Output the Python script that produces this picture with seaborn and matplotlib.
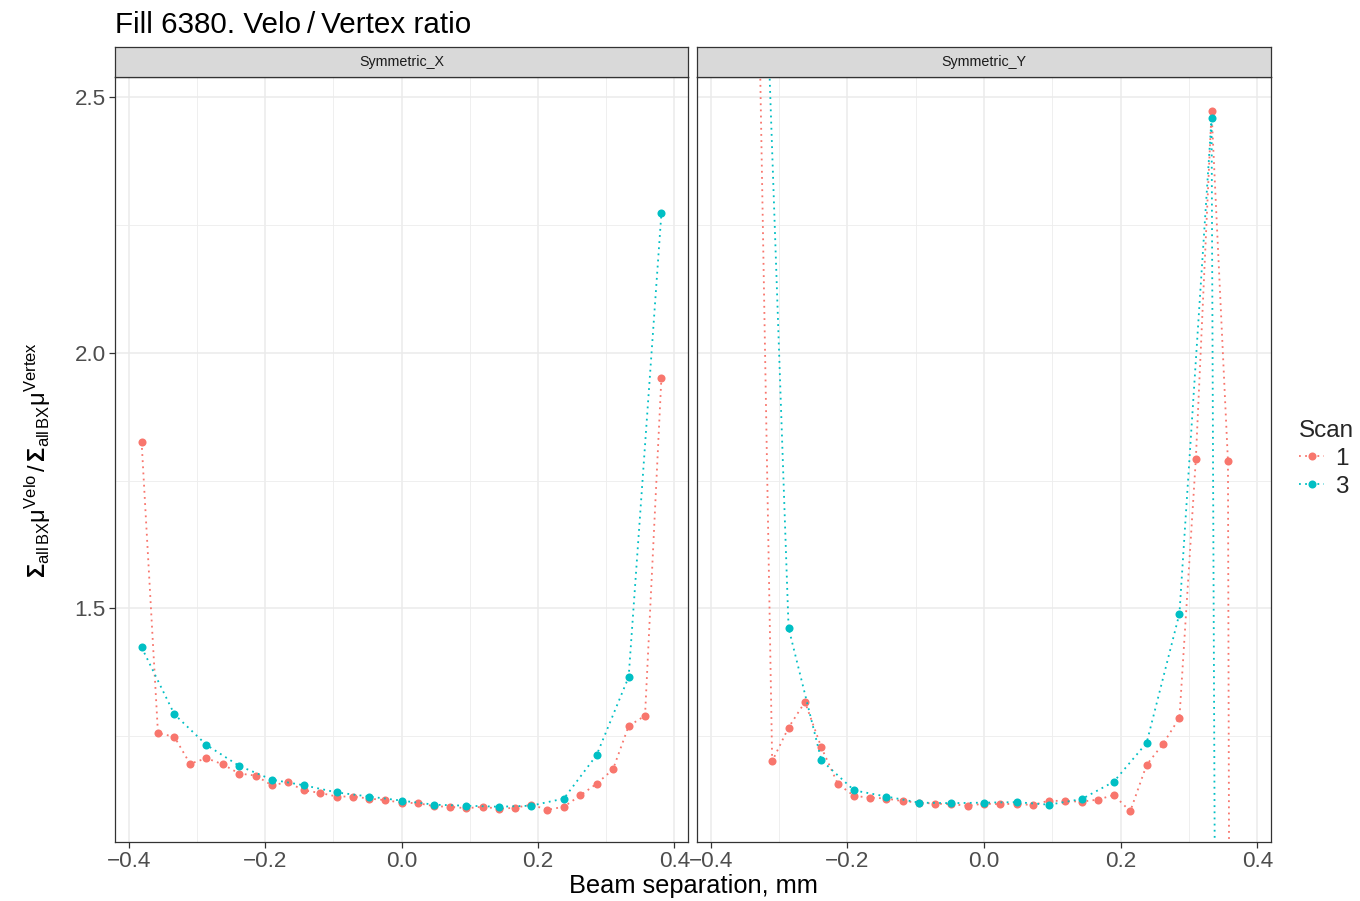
import numpy as np
import pandas as pd
import matplotlib
matplotlib.use("Agg")
import matplotlib.pyplot as plt
from matplotlib.lines import Line2D
from matplotlib.ticker import MultipleLocator
import seaborn as sns

# ---- data: beam separation (mm) and Velo/Vertex ratio per scan ----
sep_scan1 = [-0.381, -0.357, -0.333, -0.310, -0.286, -0.262, -0.238, -0.214,
             -0.190, -0.167, -0.143, -0.119, -0.095, -0.071, -0.048, -0.024,
             0.000, 0.024, 0.048, 0.071, 0.095, 0.119, 0.143, 0.167,
             0.190, 0.214, 0.238, 0.262, 0.286, 0.310, 0.333, 0.357, 0.381]
sep_scan3 = [-0.381, -0.333, -0.286, -0.238, -0.190, -0.143, -0.095, -0.048,
             0.000, 0.048, 0.095, 0.143, 0.190, 0.238, 0.286, 0.333, 0.381]

symx_scan1 = [1.826, 1.256, 1.249, 1.196, 1.207, 1.195, 1.177, 1.173,
              1.154, 1.160, 1.144, 1.139, 1.132, 1.132, 1.128, 1.125,
              1.120, 1.119, 1.113, 1.112, 1.109, 1.112, 1.108, 1.110,
              1.116, 1.106, 1.112, 1.134, 1.157, 1.185, 1.270, 1.290, 1.951]
symx_scan3 = [1.424, 1.293, 1.233, 1.192, 1.165, 1.154, 1.140, 1.132,
              1.124, 1.116, 1.114, 1.112, 1.114, 1.128, 1.213, 1.366, 2.273]

symy_sep1 = [-0.333, -0.310, -0.286, -0.262, -0.238, -0.214, -0.190, -0.167,
             -0.143, -0.119, -0.095, -0.071, -0.048, -0.024, 0.000, 0.024,
             0.048, 0.071, 0.095, 0.119, 0.143, 0.167, 0.190, 0.214,
             0.238, 0.262, 0.286, 0.310, 0.333, 0.357, 0.381]
symy_scan1 = [2.97, 1.201, 1.267, 1.317, 1.228, 1.157, 1.133, 1.130,
              1.128, 1.123, 1.120, 1.118, 1.117, 1.114, 1.118, 1.117,
              1.118, 1.115, 1.124, 1.123, 1.122, 1.126, 1.135, 1.103,
              1.194, 1.235, 1.286, 1.792, 2.473, 1.788, -9.7]
symy_sep3 = [-0.333, -0.286, -0.238, -0.190, -0.143, -0.095, -0.048, 0.000,
             0.048, 0.095, 0.143, 0.190, 0.238, 0.286, 0.333, 0.381]
symy_scan3 = [3.29, 1.462, 1.203, 1.144, 1.132, 1.120, 1.119, 1.120,
              1.121, 1.116, 1.127, 1.161, 1.237, 1.490, 2.459, -12.4]

scans = ["1", "3"]
panels = ["Symmetric_X", "Symmetric_Y"]
colors = {"1": "#F8766D", "3": "#00BFC4"}


def frame(panel, scan, sep, ratio):
    return pd.DataFrame({"panel": panel, "Scan": scan, "sep": sep, "ratio": ratio})


df = pd.concat([
    frame("Symmetric_X", "1", sep_scan1, symx_scan1),
    frame("Symmetric_X", "3", sep_scan3, symx_scan3),
    frame("Symmetric_Y", "1", symy_sep1, symy_scan1),
    frame("Symmetric_Y", "3", symy_sep3, symy_scan3),
], ignore_index=True)

# ---- style ----
sns.set_theme(style="white")
plt.rcParams["font.family"] = ["Liberation Sans", "DejaVu Sans"]
plt.rcParams["mathtext.fontset"] = "custom"
plt.rcParams["mathtext.rm"] = "Liberation Sans"
plt.rcParams["mathtext.it"] = "Liberation Sans:italic"
plt.rcParams["mathtext.bf"] = "Liberation Sans:bold"

W, H = 1360, 901
fig = plt.figure(figsize=(W / 100, H / 100), dpi=100)
fig.patch.set_facecolor("white")


def fx(px):
    return px / W


def fy(py):
    return 1 - py / H


panel_px = {"Symmetric_X": (115, 688), "Symmetric_Y": (697, 1271)}
top_px, bot_px, strip_top = 77, 842, 47
dot_style = (0, (1, 2.4))

for i, panel in enumerate(panels):
    x0, x1 = panel_px[panel]
    ax = fig.add_axes([fx(x0), fy(bot_px), fx(x1 - x0), (bot_px - top_px) / H])
    sub = df[df["panel"] == panel]
    sns.lineplot(data=sub, x="sep", y="ratio", hue="Scan", hue_order=scans,
                 palette=colors, estimator=None, sort=True, legend=False,
                 marker="o", markersize=5.8, markeredgewidth=0, ls=dot_style,
                 linewidth=1.3, ax=ax)
    ax.set_xlim(-0.42, 0.42)
    ax.set_ylim(1.043, 2.540)
    ax.xaxis.set_minor_locator(MultipleLocator(0.1))
    ax.yaxis.set_minor_locator(MultipleLocator(0.25))
    ax.grid(which="major", color="#EBEBEB", linewidth=1.1)
    ax.grid(which="minor", color="#EDEDED", linewidth=0.6)
    ax.set_axisbelow(True)
    for s in ax.spines.values():
        s.set_color("#333333")
        s.set_linewidth(0.9)
    ax.set_xticks([-0.4, -0.2, 0.0, 0.2, 0.4])
    ax.set_xticklabels(["\u22120.4", "\u22120.2", "0.0", "0.2", "0.4"])
    ax.set_yticks([1.5, 2.0, 2.5])
    ax.tick_params(which="major", length=4, width=0.9, color="#333333",
                   labelsize=16.2, labelcolor="#4D4D4D", pad=2.5,
                   bottom=True, left=(i == 0), labelleft=(i == 0))
    ax.tick_params(which="minor", length=0)
    ax.set_xlabel("")
    ax.set_ylabel("")

    # facet strip
    sax = fig.add_axes([fx(x0), fy(top_px), fx(x1 - x0), (top_px - strip_top) / H])
    sax.set_facecolor("#D9D9D9")
    sax.set_xticks([])
    sax.set_yticks([])
    for s in sax.spines.values():
        s.set_color("#333333")
        s.set_linewidth(0.9)
    sax.text(0.5, 0.5, panel, ha="center", va="center", fontsize=10.3,
             color="#1A1A1A", transform=sax.transAxes)

# ---- titles and labels ----
fig.text(fx(115), fy(33), "Fill 6380. Velo\u2009/\u2009Vertex ratio",
         fontsize=21.3, ha="left", va="baseline", color="black")
fig.text(fx(693), fy(886), "Beam separation, mm", fontsize=18.3,
         ha="center", va="center", color="black")
fig.text(fx(38), fy(460),
         r"$\mathbf{\Sigma}_{\rm all\,BX}\mathrm{\mu}^{\rm Velo}\,/\,"
         r"\mathbf{\Sigma}_{\rm all\,BX}\mathrm{\mu}^{\rm Vertex}$",
         fontsize=17, rotation=90, ha="center", va="center", color="black")

# ---- legend ----
handles = [Line2D([0], [0], color=colors[s], ls=dot_style, lw=1.3,
                  marker="o", markersize=5.8, markeredgewidth=0) for s in scans]
fig.legend(handles, scans, title="Scan", loc="upper left",
           bbox_to_anchor=(fx(1277), fy(398)), frameon=False,
           fontsize=17.5, title_fontsize=17.5, handlelength=1.05,
           handletextpad=0.45, labelspacing=0.24, alignment="left")

fig.savefig("out.png", dpi=100, facecolor="white")
